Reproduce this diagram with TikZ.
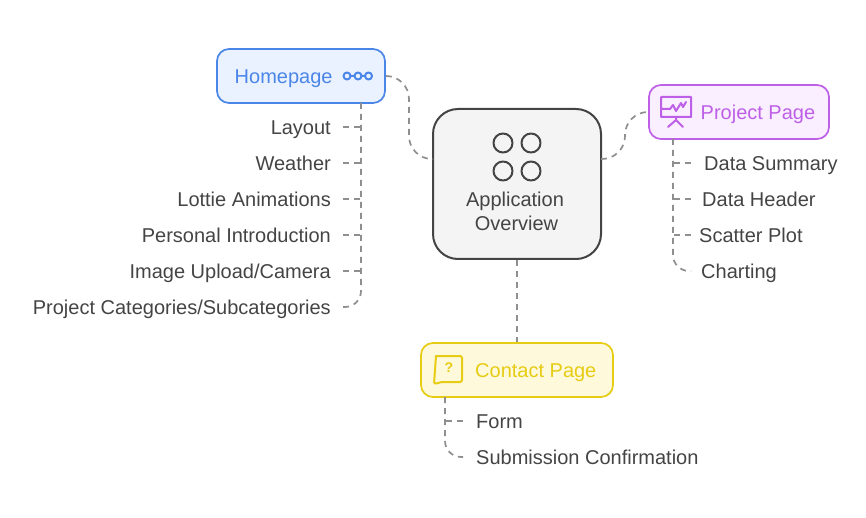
\documentclass[tikz,border=0pt]{standalone}
\usepackage{fontspec}
\setmainfont{Liberation Sans}
\usetikzlibrary{positioning}

\definecolor{homeblue}{HTML}{4A86E8}
\definecolor{homefill}{HTML}{EBF2FF}
\definecolor{projpurple}{HTML}{BE5FE8}
\definecolor{projfill}{HTML}{FAEFFF}
\definecolor{contyellow}{HTML}{E6CC12}
\definecolor{contfill}{HTML}{FFF9DC}
\definecolor{inkgrey}{HTML}{444444}
\definecolor{appfill}{HTML}{F4F4F4}
\definecolor{linkgrey}{HTML}{8F8F8F}

\tikzset{
  box/.style={draw,line width=1.7pt,rounded corners=12pt,inner sep=0pt},
  title/.style={font=\fontsize{20}{24}\selectfont,text height=17.5pt,text depth=2pt,inner sep=0pt},
  leaf/.style={font=\fontsize{20}{24}\selectfont,text=inkgrey,text height=17.5pt,text depth=2pt,inner ysep=0pt},
  leafleft/.style={leaf,anchor=east,inner xsep=12pt},
  leafright/.style={leaf,anchor=west,inner xsep=13pt},
  link/.style={draw=linkgrey,line width=1.7pt,dash pattern=on 6pt off 5pt},
  curvelink/.style={link,rounded corners=16pt},
  slink/.style={link,rounded corners=23pt},
  icon/.style={line width=2pt,line join=round,line cap=round}
}

\begin{document}
\begin{tikzpicture}[x=1pt,y=-1pt]
\useasboundingbox (0,0) rectangle (866,518);

% boxes
\node[box,draw=inkgrey,line width=2pt,fill=appfill,rounded corners=25pt,minimum width=168pt,minimum height=150pt] (app) at (517,184) {};
\node[box,draw=homeblue,fill=homefill,minimum width=168pt,minimum height=54pt] (home) at (301,76) {};
\node[box,draw=projpurple,fill=projfill,minimum width=180pt,minimum height=54pt] (proj) at (739,112) {};
\node[box,draw=contyellow,fill=contfill,minimum width=192pt,minimum height=54pt] (cont) at (517,370) {};

% titles
\node[title,text=inkgrey] (apptitle) at (515,199) {Application};
\node[title,text=inkgrey] (apptitletwo) at (516.5,223) {Overview};
\node[title,text=homeblue,anchor=west] (hometitle) at (234.5,76) {Homepage};
\node[title,text=projpurple,anchor=west] (projtitle) at (700.5,112) {Project Page};
\node[title,text=contyellow,anchor=west] (conttitle) at (475,370) {Contact Page};

% icons
\draw[icon,inkgrey] (503,143) circle (9.5) (531,143) circle (9.5) (503,171) circle (9.5) (531,171) circle (9.5);
\draw[icon,homeblue] (350.5,76) -- (354.5,76) (361.5,76) -- (365,76)
  (347,76) circle (3.5) (358,76) circle (3.5) (368.5,76) circle (3.5);
\draw[icon,projpurple] (661,97) rectangle (691,117)
  (662,109) -- (670,109) -- (673,105) -- (676,111) -- (681,103) -- (683,107) -- (686,102)
  (676,117) -- (676,120) (668,127) -- (676,120) -- (683,127);
\draw[icon,contyellow,rounded corners=2pt] (436,356) -- (462,356) -- (462,382) -- (442,382);
\draw[icon,contyellow,rounded corners=2pt] (442,382) -- (434,384) -- (436,356);
\node[inner sep=0pt,text=contyellow,font=\bfseries\fontsize{14}{14}\selectfont] (askmark) at (449,367.5) {?};

% leaves
\node[leafleft] (layout) at (343,127) {Layout};
\node[leafleft] (weather) at (343,163) {Weather};
\node[leafleft] (lottie) at (343,199) {Lottie Animations};
\node[leafleft] (intro) at (343,235) {Personal Introduction};
\node[leafleft] (upload) at (343,271) {Image Upload/Camera};
\node[leafleft] (categories) at (343,307) {Project Categories/Subcategories};

\node[leafright] (summary) at (691,163) {Data Summary};
\node[leafright,inner xsep=11pt] (header) at (691,199) {Data Header};
\node[leafright,inner xsep=8pt] (scatter) at (691,235) {Scatter Plot};
\node[leafright,inner xsep=10pt] (charting) at (691,271) {Charting};

\node[leafright] (form) at (463,421) {Form};
\node[leafright] (confirm) at (463,457) {Submission Confirmation};

% connectors
\coordinate (appleft) at (433,159);
\coordinate (appright) at (601,159);
\coordinate (homeknee) at (409,159);
\coordinate (projknee) at (625,112);
\coordinate (hometrunk) at (361,103);
\coordinate (projtrunk) at (673,139);
\coordinate (conttrunk) at (445,397);

\draw[slink] (home.east) -| (homeknee) -- (appleft);
\draw[slink] (appright) -| (projknee) -- (proj.west);
\draw[link] (app.south) -- (cont.north);

\draw[curvelink] (hometrunk) |- (categories.east);
\draw[link] (layout.east) -- (layout.east -| hometrunk);
\draw[link] (weather.east) -- (weather.east -| hometrunk);
\draw[link] (lottie.east) -- (lottie.east -| hometrunk);
\draw[link] (intro.east) -- (intro.east -| hometrunk);
\draw[link] (upload.east) -- (upload.east -| hometrunk);

\draw[curvelink] (projtrunk) |- (charting.west);
\draw[link] (summary.west) -- (summary.west -| projtrunk);
\draw[link] (header.west) -- (header.west -| projtrunk);
\draw[link] (scatter.west) -- (scatter.west -| projtrunk);

\draw[curvelink] (conttrunk) |- (confirm.west);
\draw[link] (form.west) -- (form.west -| conttrunk);
\end{tikzpicture}
\end{document}
